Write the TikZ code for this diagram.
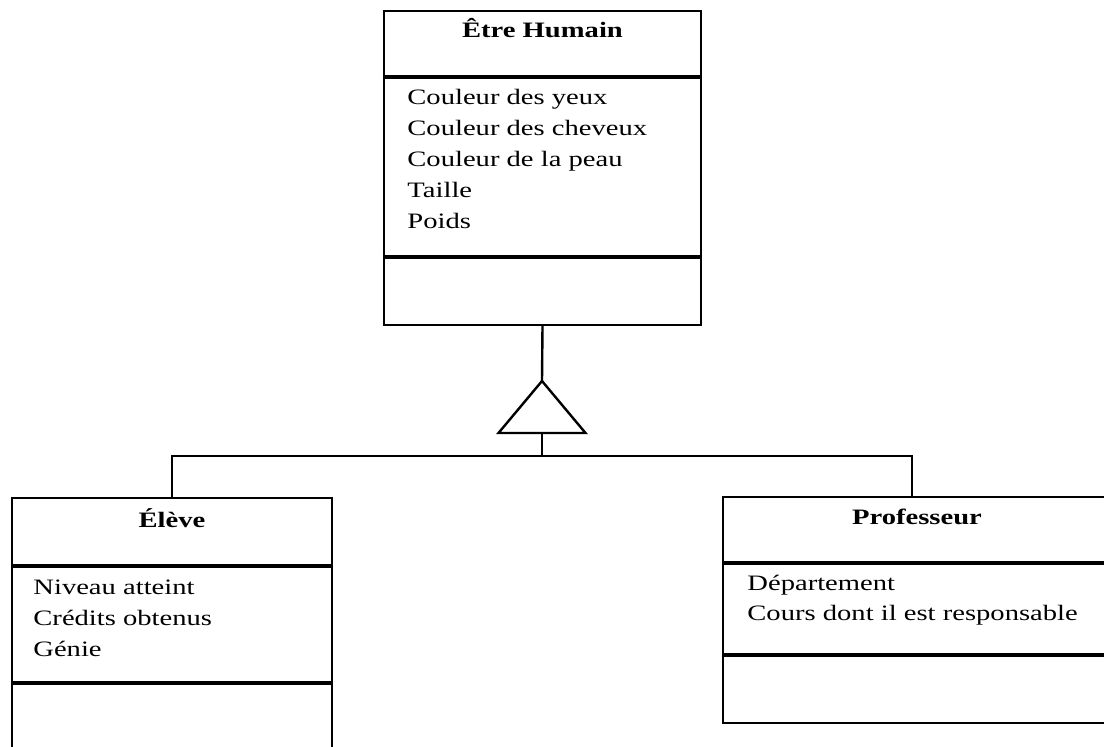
\documentclass[tikz,border=0pt]{standalone}
\usepackage{fontspec}
\setmainfont{Liberation Serif}[FakeStretch=1.3]
\usetikzlibrary{positioning,calc}

\tikzset{
  classbox/.style={draw,line width=1.2pt,inner sep=0pt},
  divider/.style={line width=1.7pt},
  link/.style={line width=1.2pt},
  classname/.style={font=\bfseries\fontsize{11}{13}\selectfont,anchor=base,inner sep=0pt},
  attr/.style={font=\fontsize{11}{13}\selectfont,anchor=base west,inner sep=0pt}
}

\begin{document}
\begin{tikzpicture}[x=0.5pt,y=-0.5pt]
\useasboundingbox (0,0) rectangle (1104,747);
\clip (0,0) rectangle (1104,747);
% classes
\node[classbox,minimum width=158.5pt,minimum height=157pt] (humain) at (542.5,168) {};
\node[classbox,minimum width=160pt,minimum height=131pt] (eleve) at (172,629) {};
\node[classbox,minimum width=193.5pt,minimum height=113pt] (prof) at (916.5,610) {};
% compartments
\draw[divider] (humain.west |- 0,77) -- (humain.east |- 0,77);
\draw[divider] (humain.west |- 0,257) -- (humain.east |- 0,257);
\draw[divider] (eleve.west |- 0,566) -- (eleve.east |- 0,566);
\draw[divider] (eleve.west |- 0,683) -- (eleve.east |- 0,683);
\draw[divider] (prof.west |- 0,563) -- (prof.east |- 0,563);
\draw[divider] (prof.west |- 0,655) -- (prof.east |- 0,655);
% names
\node[classname] (humain-name) at (542.5,38) {Être Humain};
\node[classname] (eleve-name) at (172,528) {Élève};
\node[classname] (prof-name) at (917,525) {Professeur};
% attributes
\foreach \txt [count=\i] in {Couleur des yeux,Couleur des cheveux,Couleur de la peau,Taille,Poids}
  \node[attr] (humain-\i) at (407,{74+31*\i}) {\txt};
\foreach \txt [count=\i] in {Niveau atteint,Crédits obtenus,Génie}
  \node[attr] (eleve-\i) at (33,{564+31*\i}) {\txt};
\foreach \txt [count=\i] in {Département,Cours dont il est responsable}
  \node[attr] (prof-\i) at (747,{561+30*\i}) {\txt};
% inheritance
\coordinate (apex) at (542,381);
\coordinate (tribase) at (542,433);
\coordinate (fork) at (542,456);
\coordinate (profin) at (912,497);
\draw[link] (apex) -- ($(tribase)+(-43.5,0)$) -- ($(tribase)+(43.5,0)$) -- cycle;
\draw[link] (humain.south) -- (apex);
\draw[link] (tribase) -- (fork);
\draw[link] (eleve.north) |- (fork) -| (profin);
\end{tikzpicture}
\end{document}
